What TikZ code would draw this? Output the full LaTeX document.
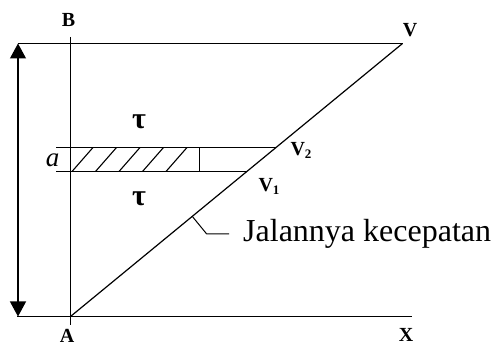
\documentclass[tikz,border=0pt]{standalone}
\usepackage{fontspec}
\setmainfont{Liberation Serif}
\usetikzlibrary{arrows.meta,calc}
\begin{document}
\begin{tikzpicture}[x=1pt,y=-1pt,
  ln/.style={line width=1.2pt,black},
  lbl/.style={font=\fontsize{20}{20}\selectfont\bfseries,inner sep=0pt},
  tau/.style={font=\fontsize{30}{30}\selectfont\bfseries,inner sep=0pt},
  hatch/.style={line width=1.1pt,black}]
\fill[white] (0,0) rectangle (493,347);
\useasboundingbox (0,0) rectangle (493,347);
% key points
\coordinate (A) at (70.5,316.5);
\coordinate (V) at (402.5,43.5);
\coordinate (Btop) at (70.5,37);
\coordinate (Bbot) at (70.5,325);
\coordinate (TL) at (18,43.5);
\coordinate (BL) at (17,316.5);
\coordinate (Xend) at (411.5,316.5);
\coordinate (ArT) at (18,43.5);
\coordinate (ArB) at (18,316.5);
\coordinate (H1L) at (56,147.5);
\coordinate (H1R) at (276,147.5);
\coordinate (H2L) at (56,171.5);
\coordinate (H2R) at (246.6,171.5);
\coordinate (DivT) at (199.5,147.5);
\coordinate (DivB) at (199.5,171.5);
\coordinate (Lk1) at ($(A)!0.3668!(V)$);
\coordinate (Lk2) at (206.7,234);
\coordinate (Lk3) at (229,234);
% axes and frame
\draw[ln] (Btop) -- (Bbot);
\draw[ln] (TL) -- (V);
\draw[ln] (BL) -- (Xend);
\draw[ln] (A) -- (V);
\draw[ln,{Triangle[length=15pt,width=16pt]}-{Triangle[length=15pt,width=16pt]}] (ArT) -- (ArB);
% band
\draw[ln] (H1L) -- (H1R);
\draw[ln] (H2L) -- (H2R);
\draw[ln] (DivT) -- (DivB);
\foreach \i in {0,1,2,3,4}{
  \draw[hatch] (72+23.5*\i,171.5) -- (93+23.5*\i,147.5);
}
% leader
\draw[line width=1pt] (Lk1) -- (Lk2) -- (Lk3);
% labels
\node[lbl] (Bl) at (68.5,20) {B};
\node[lbl] (Vl) at (410,30) {V};
\node[lbl] (Al) at (67,336) {A};
\node[lbl] (Xl) at (406,335) {X};
\node[lbl] (V2l) at (301,150) {V\raisebox{-3pt}{\fontsize{13}{13}\selectfont 2}};
\node[lbl] (V1l) at (269,186) {V\raisebox{-3pt}{\fontsize{13}{13}\selectfont 1}};
\node[tau] (t1) at (139,121.5) {τ};
\node[tau] (t2) at (139,199) {τ};
\node[inner sep=0pt,font=\fontsize{27}{27}\selectfont\itshape] (al) at (52.5,160) {a};
\node[anchor=base west,inner sep=0pt,font=\fontsize{32}{32}\selectfont] (jk) at (243,242) {Jalannya kecepatan};
\end{tikzpicture}
\end{document}
